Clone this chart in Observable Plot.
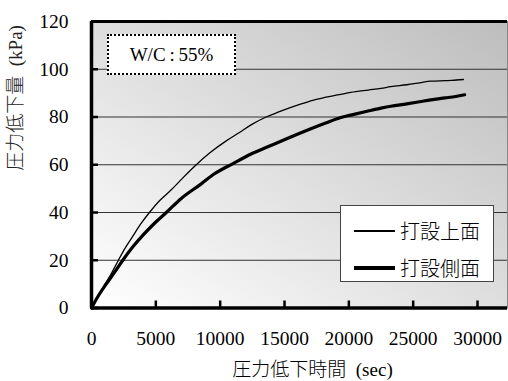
<!DOCTYPE html>
<html>
<head>
<meta charset="utf-8">
<script src="https://cdn.jsdelivr.net/npm/d3@7"></script>
<script src="https://cdn.jsdelivr.net/npm/@observablehq/plot@0.6"></script>
<style>
  body { margin: 0; background: #fff; }
  #wrap { position: relative; width: 508px; height: 381px; }
  #wrap svg { position: absolute; left: 0; top: 0; }
  .legend { position: absolute; left: 340px; top: 205px; width: 154px; height: 77px; box-sizing: border-box;
            border: 1px solid #444; background: #fff; }
  .legend .sw { position: absolute; left: 13px; width: 41px; background: #000; }
  .legend .lt { position: absolute; left: 59px; font: 300 20px "Noto Sans CJK JP", sans-serif; line-height: 24px; color: #000; }
  .wc { position: absolute; left: 107px; top: 34px; width: 129px; height: 41px; box-sizing: border-box;
        border: 2px dotted #000; background: #fff; text-align: center;
        font: 19px "Liberation Serif", serif; line-height: 37px; color: #000; }
</style>
</head>
<body>
<div id="wrap"></div>
<script>
// ---- data ----
const seriesNames = ["打設上面", "打設側面"];
const xTicks = [0, 5000, 10000, 15000, 20000, 25000, 30000];
const yTicks = [0, 20, 40, 60, 80, 100, 120];
const gridValues = [20, 40, 60, 80, 100];

const topTime = [0, 500, 1100, 1500, 2040, 2600, 3200, 3800, 4500, 5300, 6200, 7100, 8140, 9200, 10470, 11500, 12500, 13570, 14500, 15500, 16300, 17200, 18000, 19380, 20150, 21500, 22500, 23260, 24500, 25500, 26360, 27500, 28000, 28900];
const topDrop = [0, 4.8, 10.5, 14, 19.5, 25, 30, 35, 40, 45, 49.5, 54.5, 60, 65, 70, 73.5, 77, 80, 82, 84, 85.5, 87, 88, 89.5, 90.3, 91.3, 92, 92.7, 93.5, 94.3, 95, 95.2, 95.3, 95.7];

const sideTime = [0, 500, 1140, 1800, 2430, 3200, 4000, 4900, 5810, 7000, 8530, 9500, 11000, 12400, 13700, 15120, 16000, 17000, 18200, 19380, 20150, 21500, 22500, 23260, 24500, 25500, 26360, 27500, 28300, 29000];
const sideDrop = [0, 4.8, 10, 15, 20, 25.5, 30.5, 35.5, 40, 46, 52, 56, 60.5, 64.5, 67.5, 70.8, 72.8, 75, 77.5, 79.8, 80.8, 82.5, 83.7, 84.5, 85.5, 86.4, 87.2, 88, 88.6, 89.3];

const xLabel = "圧力低下時間\u2002(sec)";
const yLabel = "圧力低下量\u2002(kPa)";
const wcLabel = "W/C\u2009:\u200955%";

const topData = topTime.map((t, i) => ({t, v: topDrop[i]}));
const sideData = sideTime.map((t, i) => ({t, v: sideDrop[i]}));

const font = '"Liberation Serif", "Noto Sans CJK JP", serif';

const W = 508, H = 381, mL = 91, mR = 1, mT = 21, mB = 73.5;
const frameW = W - mL - mR, frameH = H - mT - mB;

const chart = Plot.plot({
  width: W,
  height: H,
  marginLeft: mL,
  marginRight: mR,
  marginTop: mT,
  marginBottom: mB,
  style: {fontFamily: font, fontSize: "19.5px", color: "#000", background: "transparent", overflow: "visible"},
  x: {domain: [0, 32330], label: null},
  y: {domain: [0, 120], label: null},
  marks: [
    Plot.frame({fill: "url(#bgGrad)", stroke: "#888", strokeWidth: 1}),
    Plot.ruleY(gridValues, {stroke: "#333", strokeWidth: 1}),
    Plot.line(topData, {x: "t", y: "v", stroke: "#000", strokeWidth: 1.3, curve: "monotone-x"}),
    Plot.line(sideData, {x: "t", y: "v", stroke: "#000", strokeWidth: 3.2, curve: "monotone-x"}),
    // inward tick marks
    Plot.tickX(xTicks, {x: d => d, insetTop: frameH - 7, stroke: "#000", strokeWidth: 2.5}),
    Plot.tickY(yTicks, {y: d => d, insetRight: frameW - 7, stroke: "#000", strokeWidth: 2.5}),
    // heavy axis lines and top border
    Plot.ruleX([0], {stroke: "#000", strokeWidth: 3.5}),
    Plot.ruleY([0], {stroke: "#000", strokeWidth: 3.5}),
    Plot.ruleY([120], {stroke: "#000", strokeWidth: 3}),
    // tick labels
    Plot.axisX(xTicks, {tickSize: 0, tickPadding: 23, tickFormat: d => String(d), label: null, fontFamily: font}),
    Plot.axisY(yTicks, {tickSize: 0, tickPadding: 23, tickFormat: d => String(d), label: null, fontFamily: font}),
    // axis titles
    Plot.text([xLabel], {frameAnchor: "bottom", text: d => d, dx: 13, dy: 62, lineAnchor: "middle",
      fontSize: 19, fontFamily: font, fontWeight: 300}),
    Plot.text([yLabel], {frameAnchor: "left", text: d => d, dx: -76, dy: 6, rotate: -90, lineAnchor: "middle",
      fontSize: 19, fontFamily: font, fontWeight: 300, fill: "#222"})
  ]
});

// gradient definition for the plot background
const svgSel = d3.select(chart);
const defs = svgSel.insert("defs", ":first-child");
const grad = defs.append("linearGradient").attr("id", "bgGrad")
  .attr("x1", 0).attr("y1", 1).attr("x2", 1).attr("y2", 0);
grad.append("stop").attr("offset", "0%").attr("stop-color", "#ffffff");
grad.append("stop").attr("offset", "100%").attr("stop-color", "#bdbdbd");

const wrap = document.getElementById("wrap");
wrap.appendChild(chart);

// W/C annotation
const wc = document.createElement("div");
wc.className = "wc";
wc.textContent = wcLabel;
wrap.appendChild(wc);

// legend
const legend = document.createElement("div");
legend.className = "legend";
const rows = [{name: seriesNames[0], w: 1.3, y: 25}, {name: seriesNames[1], w: 3.2, y: 62}];
rows.forEach(r => {
  const sw = document.createElement("div");
  sw.className = "sw";
  sw.style.height = r.w + "px";
  sw.style.top = (r.y - r.w / 2) + "px";
  legend.appendChild(sw);
  const t = document.createElement("div");
  t.className = "lt";
  t.textContent = r.name;
  t.style.top = (r.y - 12) + "px";
  legend.appendChild(t);
});
wrap.appendChild(legend);
</script>
</body>
</html>
